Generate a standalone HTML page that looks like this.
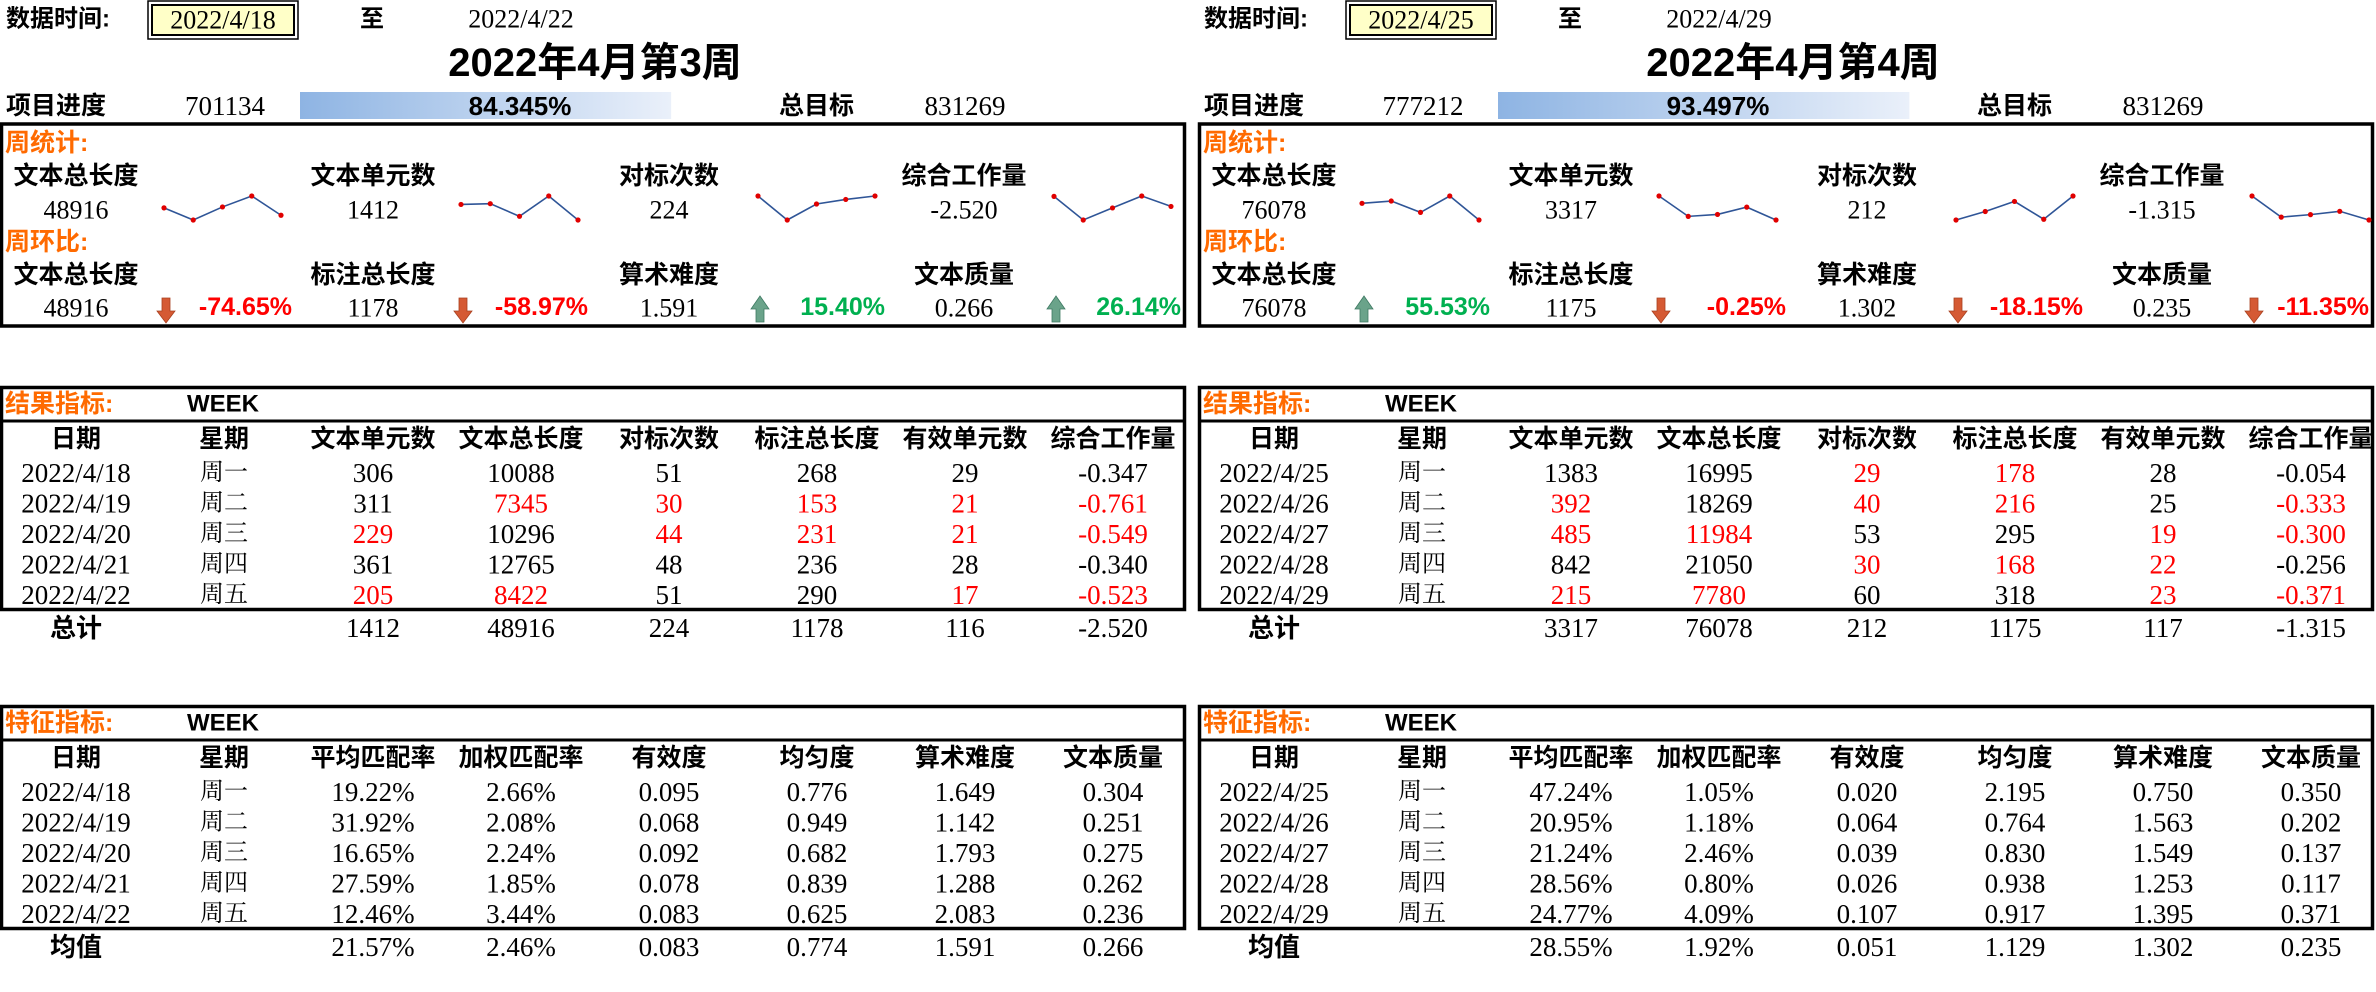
<!DOCTYPE html>
<html><head><meta charset="utf-8"><title>周报</title>
<style>
html,body{margin:0;padding:0;background:#fff;overflow:hidden;}
svg{display:block;}
.b{font-family:"Liberation Sans","Noto Sans CJK SC",sans-serif;font-weight:bold;}
.s{font-family:"Liberation Serif","Noto Serif CJK SC",serif;}
</style></head>
<body>
<svg id="page" xmlns="http://www.w3.org/2000/svg" width="2376" height="992" viewBox="0 0 2376 992"></svg>
<script>
// ---------- data ----------
const weekTitles = ['2022年4月第3周','2022年4月第4周'];
const startDates = ['2022/4/18','2022/4/25'];
const endDates = ['2022/4/22','2022/4/29'];
const progressValues = [701134, 777212];
const progressPct = [84.345, 93.497];
const targetValue = 831269;
const weekdays = ['周一','周二','周三','周四','周五'];
const dates3 = ['2022/4/18','2022/4/19','2022/4/20','2022/4/21','2022/4/22'];
const dates4 = ['2022/4/25','2022/4/26','2022/4/27','2022/4/28','2022/4/29'];
// result metrics week 3
const units3 = [306,311,229,361,205];
const totalLen3 = [10088,7345,10296,12765,8422];
const bench3 = [51,30,44,48,51];
const labelLen3 = [268,153,231,236,290];
const valid3 = [29,21,21,28,17];
const work3 = [-0.347,-0.761,-0.549,-0.340,-0.523];
const red3 = [[0,0,0,0,0,0],[0,1,1,1,1,1],[1,0,1,1,1,1],[0,0,0,0,0,0],[1,1,0,0,1,1]];
const sum3 = ['1412','48916','224','1178','116','-2.520'];
// result metrics week 4
const units4 = [1383,392,485,842,215];
const totalLen4 = [16995,18269,11984,21050,7780];
const bench4 = [29,40,53,30,60];
const labelLen4 = [178,216,295,168,318];
const valid4 = [28,25,19,22,23];
const work4 = [-0.054,-0.333,-0.300,-0.256,-0.371];
const red4 = [[0,0,1,1,0,0],[1,0,1,1,0,1],[1,1,0,0,1,1],[0,0,1,1,1,0],[1,1,0,0,1,1]];
const sum4 = ['3317','76078','212','1175','117','-1.315'];
// feature metrics
const avgMatch3 = ['19.22%','31.92%','16.65%','27.59%','12.46%'];
const wMatch3 = ['2.66%','2.08%','2.24%','1.85%','3.44%'];
const eff3 = ['0.095','0.068','0.092','0.078','0.083'];
const unif3 = ['0.776','0.949','0.682','0.839','0.625'];
const diff3 = ['1.649','1.142','1.793','1.288','2.083'];
const qual3 = ['0.304','0.251','0.275','0.262','0.236'];
const mean3 = ['21.57%','2.46%','0.083','0.774','1.591','0.266'];
const avgMatch4 = ['47.24%','20.95%','21.24%','28.56%','24.77%'];
const wMatch4 = ['1.05%','1.18%','2.46%','0.80%','4.09%'];
const eff4 = ['0.020','0.064','0.039','0.026','0.107'];
const unif4 = ['2.195','0.764','0.830','0.938','0.917'];
const diff4 = ['0.750','1.563','1.549','1.253','1.395'];
const qual4 = ['0.350','0.202','0.137','0.117','0.371'];
const mean4 = ['28.55%','1.92%','0.051','1.129','1.302','0.235'];
// weekly stats
const statLabels = ['文本总长度','文本单元数','对标次数','综合工作量'];
const statValues3 = ['48916','1412','224','-2.520'];
const statValues4 = ['76078','3317','212','-1.315'];
const wowLabels = ['文本总长度','标注总长度','算术难度','文本质量'];
const wowValues3 = ['48916','1178','1.591','0.266'];
const wowValues4 = ['76078','1175','1.302','0.235'];
const wowPct3 = [-74.65,-58.97,15.40,26.14];
const wowPct4 = [55.53,-0.25,-18.15,-11.35];

const resHeaders = ['日期','星期','文本单元数','文本总长度','对标次数','标注总长度','有效单元数','综合工作量'];
const featHeaders = ['日期','星期','平均匹配率','加权匹配率','有效度','均匀度','算术难度','文本质量'];

// ---------- drawing ----------
const NS='http://www.w3.org/2000/svg';
const svg=document.getElementById('page');
function mk(tag,attrs,parent){const e=document.createElementNS(NS,tag);for(const k in attrs)e.setAttribute(k,attrs[k]);(parent||svg).appendChild(e);return e;}
function txt(g,x,y,s,cls,size,anchor,fill,name){
  const t=mk('text',{x:x,y:y,'class':cls,'font-size':size,'text-anchor':anchor||'middle','dominant-baseline':'central',fill:fill||'#000'},g);
  t.textContent=s;
  
  
  return t;
}
function fmt3(v){return v.toFixed(3);}

const colX=[76,224,373,521,669,817,965,1113];
const statX=[76,373,669,964];
const sparkX=[164,461,758,1054];
const sparkW=117;

function drawPanel(p){
  const ox=p===0?0:1198;
  const W=p===0?1186:1176;
  const g=mk('g',{transform:'translate('+ox+',0)'});
  
  
  // header
  txt(g,6,19,'数据时间:','b',24,'start','#000','data-time-label');
  const r1=mk('rect',{x:148,y:1,width:150,height:38,fill:'none',stroke:'#000','stroke-width':1.5},g);
  
  
  const r2=mk('rect',{x:152,y:5,width:142,height:30,fill:'#ffffc8',stroke:'#000','stroke-width':2},g);
  
  
  txt(g,223,20,startDates[p],'s',26,'middle','#000','start-date');
  txt(g,372,19,'至','b',24,'middle','#000','to-label');
  txt(g,521,19,endDates[p],'s',26,'middle','#000','end-date');
  txt(g,595,63,weekTitles[p],'b',40,'middle','#000','week-title');
  // progress
  txt(g,6,106,'项目进度','b',25,'start','#000','progress-label');
  txt(g,225,106,String(progressValues[p]),'s',27,'middle','#000','progress-value');
  const gid='grad'+p;
  const defs=mk('defs',{},g);
  const lg=mk('linearGradient',{id:gid,x1:0,y1:0,x2:1,y2:0},defs);
  mk('stop',{offset:'0','stop-color':'#8eb4e3'},lg);
  mk('stop',{offset:'1','stop-color':'#eaf0fa'},lg);
  const bar=mk('rect',{x:300,y:92,width:progressPct[p]/100*440,height:27,fill:'url(#'+gid+')'},g);
  
  
  txt(g,520,106,progressPct[p].toFixed(3)+'%','b',26,'middle','#000','progress-percent');
  txt(g,779,106,'总目标','b',25,'start','#000','target-label');
  txt(g,965,106,String(targetValue),'s',27,'middle','#000','target-value');
  // stats box
  const sb=mk('rect',{x:1.5,y:124,width:W-3,height:202,fill:'none',stroke:'#000','stroke-width':3.5},g);
  
  
  txt(g,5,143,'周统计:','b',25,'start','#ff6a00','weekly-stats-title');
  const sv=p===0?statValues3:statValues4;
  const series=p===0?[totalLen3,units3,bench3,work3]:[totalLen4,units4,bench4,work4];
  for(let i=0;i<4;i++){
    txt(g,statX[i],176,statLabels[i],'b',25,'middle','#000','stat-label-'+i);
    txt(g,statX[i],210,sv[i],'s',26,'middle','#000','stat-value-'+i);
    const d=series[i];const mn=Math.min(...d),mx=Math.max(...d);
    const sx=k=>sparkX[i]+k*sparkW/(d.length-1);
    const sy=v=>220-(v-mn)/(mx-mn||1)*24;
    const pts=d.map((v,k)=>sx(k)+','+sy(v)).join(' ');
    const pl=mk('polyline',{points:pts,fill:'none',stroke:'#2f5597','stroke-width':1.6},g);
    
    
    d.forEach((v,k)=>{const c=mk('circle',{cx:sx(k),cy:sy(v),r:2.6,fill:'#e00000'},g);
      
      });
  }
  txt(g,5,242,'周环比:','b',25,'start','#ff6a00','wow-title');
  const wv=p===0?wowValues3:wowValues4;
  const wp=p===0?wowPct3:wowPct4;
  for(let i=0;i<4;i++){
    txt(g,statX[i],275,wowLabels[i],'b',25,'middle','#000','wow-label-'+i);
    txt(g,statX[i],308,wv[i],'s',26,'middle','#000','wow-value-'+i);
    const up=wp[i]>0;const ax=sparkX[i]+2;
    let poly;
    if(up) poly=[[ax-4,322],[ax-4,309],[ax-9,309],[ax,296],[ax+9,309],[ax+4,309],[ax+4,322]];
    else poly=[[ax-4,298],[ax-4,311],[ax-9,311],[ax,323],[ax+9,311],[ax+4,311],[ax+4,298]];
    const ar=mk('polygon',{points:poly.map(q=>q.join(',')).join(' '),fill:up?'#6aa38a':'#d55a34',stroke:up?'#3f7a63':'#a8401f','stroke-width':0.8},g);
    
    
    const ex=Math.min([292,588,885,1182][i],W-5);
    txt(g,ex,307,wp[i].toFixed(2)+'%','b',25,'end',up?'#00b050':'#ff0000','wow-percent-'+i);
  }
  // tables
  function table(top,title,headers,rows,reds,foot,footLabel,nm){
    const tg=mk('g',{},g);
    
    
    const bx=mk('rect',{x:1.5,y:top+1.5,width:W-3,height:222,fill:'none',stroke:'#000','stroke-width':3.5},tg);
    
    
    const ln=mk('line',{x1:0,y1:top+35,x2:W,y2:top+35,stroke:'#000','stroke-width':3},tg);
    
    
    txt(tg,5,top+18,title,'b',25,'start','#ff6a00','table-title');
    txt(tg,187,top+18,'WEEK','b',24,'start','#000','week-label');
    headers.forEach((h,i)=>txt(tg,colX[i],top+53,h,'b',25,'middle','#000','column-header'));
    rows.forEach((r,ri)=>{
      const y=top+87+ri*30.5;
      r.forEach((c,ci)=>{
        const red=ci>=2&&reds&&reds[ri][ci-2];
        txt(tg,colX[ci],y,c,'s',ci===1?24:27,'middle',red?'#ff0000':'#000','table-cell');
      });
    });
    txt(tg,colX[0],top+242,footLabel,'b',26,'middle','#000','footer-label');
    foot.forEach((c,i)=>txt(tg,colX[i+2],top+242,c,'s',27,'middle','#000','footer-cell'));
  }
  const dts=p===0?dates3:dates4;
  const U=p===0?units3:units4,T=p===0?totalLen3:totalLen4,B=p===0?bench3:bench4,L=p===0?labelLen3:labelLen4,V=p===0?valid3:valid4,K=p===0?work3:work4;
  const resRows=dts.map((d,i)=>[d,weekdays[i],String(U[i]),String(T[i]),String(B[i]),String(L[i]),String(V[i]),fmt3(K[i])]);
  table(386,'结果指标:',resHeaders,resRows,p===0?red3:red4,p===0?sum3:sum4,'总计','result-table');
  const A=p===0?avgMatch3:avgMatch4,Wm=p===0?wMatch3:wMatch4,E=p===0?eff3:eff4,Un=p===0?unif3:unif4,D=p===0?diff3:diff4,Q=p===0?qual3:qual4;
  const featRows=dts.map((d,i)=>[d,weekdays[i],A[i],Wm[i],E[i],Un[i],D[i],Q[i]]);
  table(705,'特征指标:',featHeaders,featRows,null,p===0?mean3:mean4,'均值','feature-table');
}
drawPanel(0);
drawPanel(1);
</script>
</body></html>
